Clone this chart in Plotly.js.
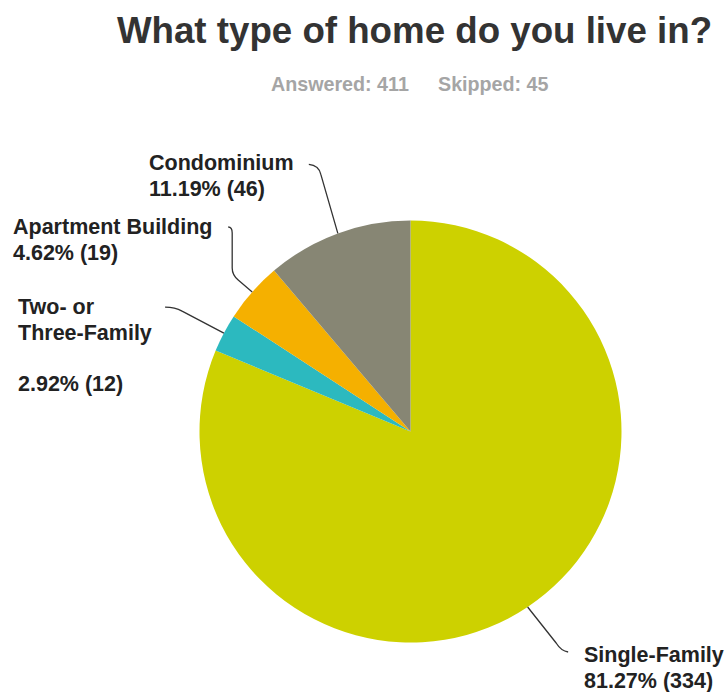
<!DOCTYPE html>
<html>
<head>
<meta charset="utf-8">
<script src="https://cdn.plot.ly/plotly-3.0.1.min.js"></script>
<style>html,body{margin:0;padding:0;background:#fff;}#chart{width:726px;height:692px;}</style>
</head>
<body>
<div id="chart"></div>
<script>
// ---- data ----
const categories = ["Single-Family", "Two- or Three-Family", "Apartment Building", "Condominium"];
const labelLines = [["Single-Family"], ["Two- or", "Three-Family", ""], ["Apartment Building"], ["Condominium"]];
const counts = [334, 12, 19, 46];
const answered = 411;
const skipped = 45;
const titleText = "What type of home do you live in?";

// ---- styling / layout ----
const W = 726, H = 692;
const colors = ["#cdd100", "#2cb9bf", "#f5b000", "#878674"];
const cx = 410.5, cy = 431.5, R = 211;
const fontFam = "Liberation Sans, Arial, Helvetica, sans-serif";
const labelSize = 21.5, lineGap = 25.5;
// label placement (left x, center y of first line)
const labelPos = [
  {x: 583, y: 655},
  {x: 17, y: 307},
  {x: 12, y: 227},
  {x: 148, y: 163}
];
// leader paths: points given as offsets from the slice-edge anchor (ax, ay)
function leaderPath(i, ax, ay) {
  const p = (dx, dy) => ((ax + dx) / W).toFixed(5) + "," + (1 - (ay + dy) / H).toFixed(5);
  if (i === 0) return "M" + p(0,0) + " L" + p(28.5,36) + " Q" + p(33.5,44) + " " + p(40.5,45);
  if (i === 1) return "M" + p(-58.8,-26) + " Q" + p(-48.8,-26) + " " + p(-41.8,-22) + " L" + p(0,0);
  if (i === 2) return "M" + p(-24,-65) + " Q" + p(-20,-65) + " " + p(-20,-59) + " L" + p(-20,-24) + " Q" + p(-20,-17) + " " + p(-14,-12) + " L" + p(0,0);
  return "M" + p(-29,-69) + " Q" + p(-19,-68) + " " + p(-17,-59) + " L" + p(0,0);
}

const total = counts.reduce((a, b) => a + b, 0);
const trace = {
  type: "pie",
  labels: categories,
  values: counts,
  sort: false,
  direction: "clockwise",
  rotation: 0,
  marker: {colors: colors, line: {width: 0}},
  textinfo: "none",
  hoverinfo: "label+percent",
  showlegend: false,
  domain: {x: [(cx - R) / W, (cx + R) / W], y: [1 - (cy + R) / H, 1 - (cy - R) / H]}
};

const annotations = [];
const shapes = [];
let cum = 0;
counts.forEach((v, i) => {
  const mid = 2 * Math.PI * (cum + v / 2) / total;
  cum += v;
  const ax = cx + R * Math.sin(mid);
  const ay = cy - R * Math.cos(mid);
  const pct = (100 * v / total).toFixed(2) + "% (" + v + ")";
  const lines = labelLines[i].concat([pct]);
  lines.forEach((t, k) => {
    if (!t) return;
    annotations.push({
      xref: "paper", yref: "paper",
      x: labelPos[i].x / W, y: 1 - (labelPos[i].y + k * lineGap) / H,
      xanchor: "left", yanchor: "middle",
      text: t, showarrow: false, borderpad: 0,
      font: {family: fontFam, size: labelSize, color: "#222222", weight: "bold"}
    });
  });
  shapes.push({
    type: "path", xref: "paper", yref: "paper",
    path: leaderPath(i, ax, ay),
    line: {color: "#333333", width: 1.3}
  });
});

annotations.push({
  xref: "paper", yref: "paper", x: 270 / W, y: 1 - 84 / H,
  xanchor: "left", yanchor: "middle", showarrow: false, borderpad: 0,
  text: "Answered: " + answered,
  font: {family: fontFam, size: 19.7, color: "#a5a5a5", weight: "bold"}
});
annotations.push({
  xref: "paper", yref: "paper", x: 437 / W, y: 1 - 84 / H,
  xanchor: "left", yanchor: "middle", showarrow: false, borderpad: 0,
  text: "Skipped: " + skipped,
  font: {family: fontFam, size: 19.7, color: "#a5a5a5", weight: "bold"}
});

const layout = {
  width: W, height: H,
  margin: {l: 0, r: 0, t: 0, b: 0},
  paper_bgcolor: "#ffffff",
  title: {
    text: titleText,
    x: 414.5 / W, y: 1 - 30 / H, xanchor: "center", yanchor: "middle",
    font: {family: fontFam, size: 36.7, color: "#333333", weight: "bold"}
  },
  annotations: annotations,
  shapes: shapes
};

Plotly.newPlot("chart", [trace], layout, {displayModeBar: false, staticPlot: true});
</script>
</body>
</html>
